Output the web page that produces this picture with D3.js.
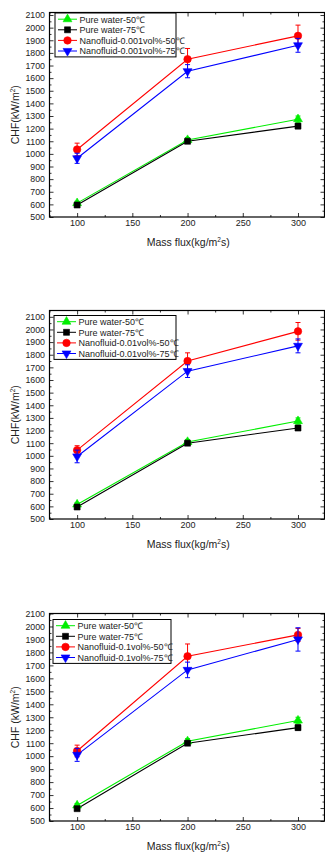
<!DOCTYPE html>
<html>
<head>
<meta charset="utf-8">
<script src="https://cdn.jsdelivr.net/npm/d3@7"></script>
<style>
  body { margin: 0; background: #fff; }
  svg { display: block; font-family: "Liberation Sans", Arial, sans-serif; }
</style>
</head>
<body>
<svg id="fig" width="325" height="854"></svg>
<script>
// ---- data ----
const massFlux = [100, 200, 300];
const xTickValues = [100, 150, 200, 250, 300];
const yTickValues = [500, 600, 700, 800, 900, 1000, 1100, 1200, 1300, 1400, 1500, 1600, 1700, 1800, 1900, 2000, 2100];
const concentrations = ['0.001vol%', '0.01vol%', '0.1vol%'];

// panel 1: 0.001 vol%
const water50A = [610, 1110, 1275];
const water50AErr = [15, 20, 25];
const water75A = [595, 1100, 1220];
const water75AErr = [12, 15, 20];
const nano50A = [1035, 1750, 1935];
const nano50AErr = [50, 85, 85];
const nano75A = [965, 1655, 1860];
const nano75AErr = [40, 52, 55];

// panel 2: 0.01 vol%
const water50B = [615, 1110, 1275];
const water50BErr = [15, 20, 25];
const water75B = [595, 1100, 1220];
const water75BErr = [12, 15, 20];
const nano50B = [1045, 1750, 1985];
const nano50BErr = [35, 65, 70];
const nano75B = [995, 1670, 1870];
const nano75BErr = [50, 50, 55];

// panel 3: 0.1 vol%
const water50C = [620, 1115, 1275];
const water50CErr = [15, 20, 25];
const water75C = [595, 1100, 1220];
const water75CErr = [12, 15, 20];
const nano50C = [1040, 1770, 1935];
const nano50CErr = [45, 95, 50];
const nano75C = [1010, 1665, 1900];
const nano75CErr = [50, 60, 90];

// ---- layout ----
const panels = [
  { top: 12.5, bottom: 217, yMax: 2120, legend: { x: 55, y: 13, w: 121 },
    values: [water50A, water75A, nano50A, nano75A], errors: [water50AErr, water75AErr, nano50AErr, nano75AErr],
    yLabelGap: '' },
  { top: 310.5, bottom: 519, yMax: 2150, legend: { x: 54, y: 315.5, w: 122 },
    values: [water50B, water75B, nano50B, nano75B], errors: [water50BErr, water75BErr, nano50BErr, nano75BErr],
    yLabelGap: '' },
  { top: 613.5, bottom: 821, yMax: 2100, legend: { x: 53, y: 619.5, w: 118 },
    values: [water50C, water75C, nano50C, nano75C], errors: [water50CErr, water75CErr, nano50CErr, nano75CErr],
    yLabelGap: ' ' },
];

const left = 49.5;
const right = 324.5;
const seriesColors = ['#00ee00', '#000000', '#ff0000', '#0000ff'];
const seriesSymbols = [d3.symbolTriangle, d3.symbolSquare, d3.symbolCircle, d3.symbolTriangle];
const seriesRotate = [0, 0, 0, 180];
const symbolSizes = [34, 36, 44, 34];

const svg = d3.select('#fig');

function seriesLabels(conc) {
  return ['Pure water-50℃', 'Pure water-75℃', `Nanofluid-${conc}-50℃`, `Nanofluid-${conc}-75℃`];
}

function drawMarker(g, i, x, y) {
  g.append('path')
    .attr('d', d3.symbol().type(seriesSymbols[i]).size(symbolSizes[i])())
    .attr('transform', `translate(${x},${y}) rotate(${seriesRotate[i]})`)
    .attr('fill', seriesColors[i])
    .attr('stroke', seriesColors[i])
    .attr('stroke-width', 0.6);
}

panels.forEach((p, pi) => {
  const g = svg.append('g');
  const xScale = d3.scaleLinear().domain([75, 324]).range([left, right]);
  const yScale = d3.scaleLinear().domain([500, p.yMax]).range([p.bottom, p.top]);

  // axes with inward ticks (Origin style)
  const xMinor = d3.range(75, 325, 25).filter(v => !xTickValues.includes(v));
  const yMinor = d3.range(550, p.yMax, 100);

  const bottomAxis = d3.axisBottom(xScale).tickValues(xTickValues).tickSize(-4).tickPadding(3).tickFormat(d3.format('d'));
  const bAx = g.append('g').attr('transform', `translate(0,${p.bottom})`).call(bottomAxis);
  bAx.selectAll('text').attr('font-size', 9).attr('fill', '#222');

  const leftAxis = d3.axisLeft(yScale).tickValues(yTickValues).tickSize(-4).tickPadding(4.5).tickFormat(d3.format('d'));
  const lAx = g.append('g').attr('transform', `translate(${left},0)`).call(leftAxis);
  lAx.selectAll('text').attr('font-size', 8.8).attr('fill', '#222');

  // top / right mirror ticks, no labels
  g.append('g').attr('transform', `translate(0,${p.top})`)
    .call(d3.axisTop(xScale).tickValues(xTickValues).tickSize(-4).tickFormat(''));
  g.append('g').attr('transform', `translate(${right},0)`)
    .call(d3.axisRight(yScale).tickValues(yTickValues).tickSize(-4).tickFormat(''));

  // minor ticks
  g.append('g').attr('transform', `translate(0,${p.bottom})`)
    .call(d3.axisBottom(xScale).tickValues(xMinor).tickSize(-2).tickFormat(''));
  g.append('g').attr('transform', `translate(0,${p.top})`)
    .call(d3.axisTop(xScale).tickValues(xMinor).tickSize(-2).tickFormat(''));
  g.append('g').attr('transform', `translate(${left},0)`)
    .call(d3.axisLeft(yScale).tickValues(yMinor).tickSize(-2).tickFormat(''));
  g.append('g').attr('transform', `translate(${right},0)`)
    .call(d3.axisRight(yScale).tickValues(yMinor).tickSize(-2).tickFormat(''));

  g.selectAll('.domain').remove();
  g.selectAll('.tick line').attr('stroke', '#000').attr('stroke-width', 0.8);

  // frame
  g.append('rect')
    .attr('x', left).attr('y', p.top)
    .attr('width', right - left).attr('height', p.bottom - p.top)
    .attr('fill', 'none').attr('stroke', '#000').attr('stroke-width', 1.2);

  // axis titles
  const xt = g.append('text')
    .attr('x', (left + 327) / 2)
    .attr('y', p.bottom + 29)
    .attr('text-anchor', 'middle')
    .attr('font-size', 10.5)
    .attr('fill', '#222');
  xt.append('tspan').text('Mass flux(kg/m');
  xt.append('tspan').attr('dy', -4).attr('font-size', 6.5).text('2');
  xt.append('tspan').attr('dy', 4).text('s)');

  const yt = g.append('text')
    .attr('transform', `translate(19,${(p.top + p.bottom) / 2}) rotate(-90)`)
    .attr('text-anchor', 'middle')
    .attr('font-size', 10.5)
    .attr('fill', '#222');
  yt.append('tspan').text(`CHF${p.yLabelGap}(kW/m`);
  yt.append('tspan').attr('dy', -4).attr('font-size', 6.5).text('2');
  yt.append('tspan').attr('dy', 4).text(')');

  // series
  const line = d3.line().x((d, k) => xScale(massFlux[k])).y(d => yScale(d));
  p.values.forEach((vals, i) => {
    const c = seriesColors[i];
    g.append('path')
      .attr('d', line(vals))
      .attr('fill', 'none')
      .attr('stroke', c)
      .attr('stroke-width', 1.1);
  });
  p.values.forEach((vals, i) => {
    const c = seriesColors[i];
    const errs = p.errors[i];
    vals.forEach((v, k) => {
      const x = xScale(massFlux[k]);
      const y0 = yScale(v - errs[k]);
      const y1 = yScale(v + errs[k]);
      const eb = g.append('g').attr('stroke', c).attr('stroke-width', 1);
      eb.append('line').attr('x1', x).attr('x2', x).attr('y1', y0).attr('y2', y1);
      eb.append('line').attr('x1', x - 2.5).attr('x2', x + 2.5).attr('y1', y0).attr('y2', y0);
      eb.append('line').attr('x1', x - 2.5).attr('x2', x + 2.5).attr('y1', y1).attr('y2', y1);
      drawMarker(g, i, x, yScale(v));
    });
  });

  // legend
  const L = p.legend;
  const rowH = 10.6;
  const lg = g.append('g');
  lg.append('rect')
    .attr('x', L.x).attr('y', L.y)
    .attr('width', L.w).attr('height', rowH * 4 + 1.5)
    .attr('fill', '#fff').attr('stroke', '#000').attr('stroke-width', 1);
  seriesLabels(concentrations[pi]).forEach((name, i) => {
    const cy = L.y + 6.2 + i * rowH;
    lg.append('line')
      .attr('x1', L.x + 3).attr('x2', L.x + 22)
      .attr('y1', cy).attr('y2', cy)
      .attr('stroke', seriesColors[i]).attr('stroke-width', 1);
    drawMarker(lg, i, L.x + 12.5, cy);
    lg.append('text')
      .attr('x', L.x + 24.5).attr('y', cy + 3.3)
      .attr('font-size', 9)
      .attr('fill', '#222')
      .text(name);
  });
});
</script>
</body>
</html>
